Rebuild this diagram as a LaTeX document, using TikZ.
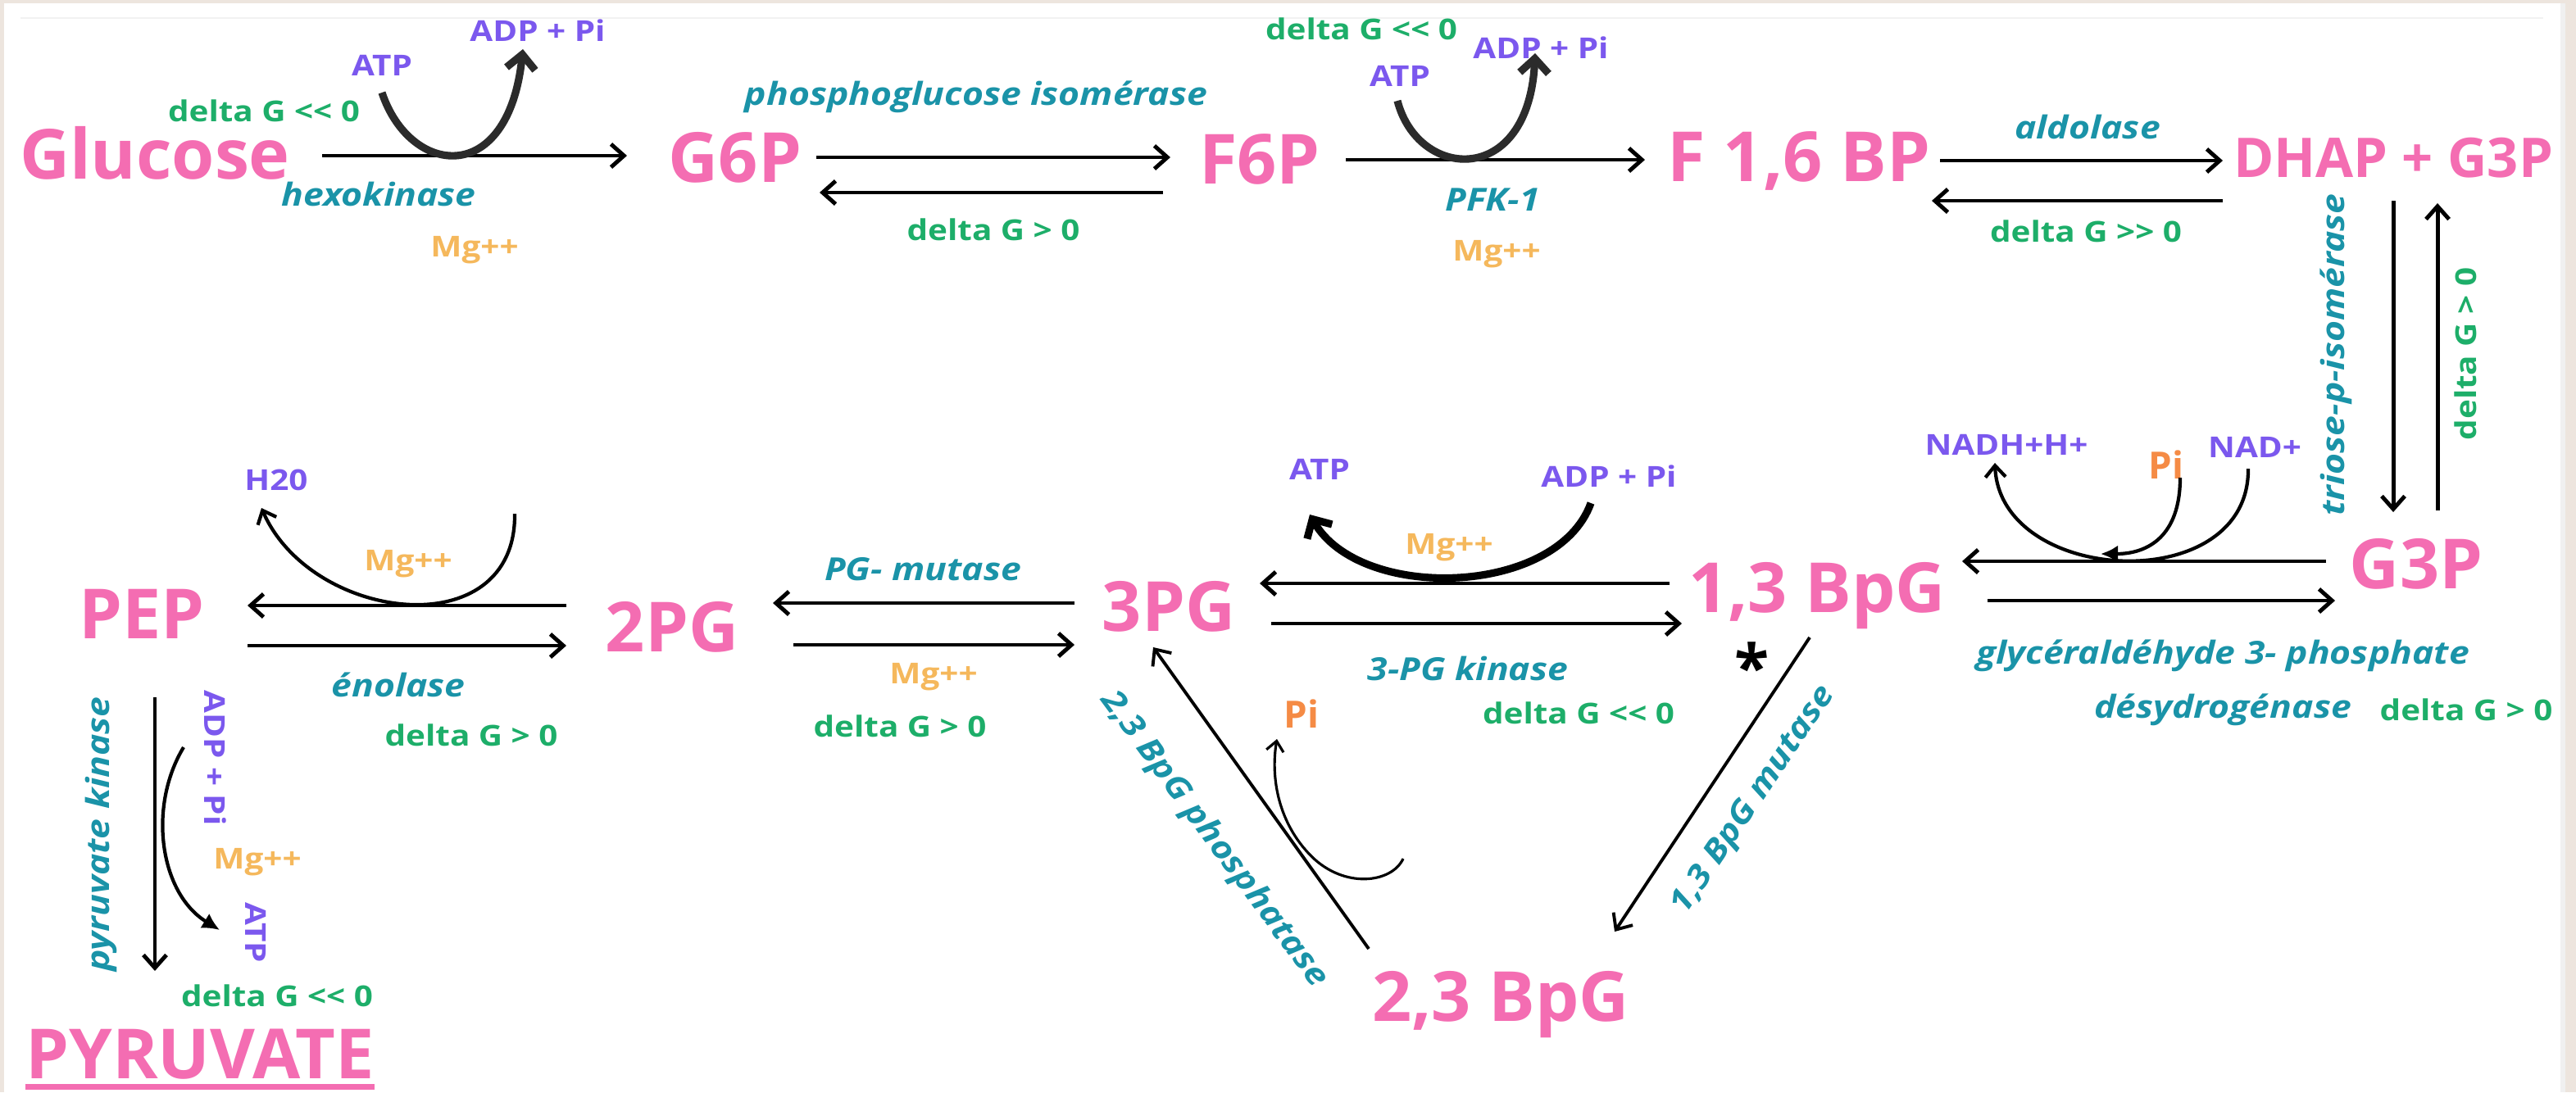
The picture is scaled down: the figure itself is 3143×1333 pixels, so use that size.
\documentclass[tikz,border=0pt]{standalone}
\usepackage{fontspec}
\setmainfont{Open Sans}
\newfontfamily\molf{Open Sans}
\newfontfamily\lblf{Open Sans}[FakeStretch=1.15]
\usetikzlibrary{arrows.meta,calc}
\definecolor{molpink}{HTML}{F46DB2}
\definecolor{cofv}{HTML}{7B58EE}
\definecolor{enzc}{HTML}{1A93A8}
\definecolor{dgc}{HTML}{1DAE69}
\definecolor{mgc}{HTML}{F5B85C}
\definecolor{pio}{HTML}{F58B45}
\definecolor{framec}{HTML}{EDE5DE}
\definecolor{curvec}{HTML}{2B2B2B}
\tikzset{
  mol/.style={font=\molf\bfseries\fontsize{24}{28}\selectfont, text=molpink, inner sep=0pt, anchor=base},
  lab/.style={font=\lblf\bfseries\fontsize{10}{12}\selectfont, inner sep=0pt},
  enzl/.style={font=\lblf\bfseries\itshape\fontsize{11}{13}\selectfont, inner sep=0pt, text=enzc},
  dgl/.style={lab, text=dgc},
  mgl/.style={lab, text=mgc},
  cofl/.style={lab, text=cofv},
  pil/.style={font=\molf\bfseries\fontsize{13}{15}\selectfont, inner sep=0pt, text=pio},
  rx/.style={line width=1.4pt, -{Straight Barb[length=4.5pt,width=8pt]}},
  rxthin/.style={line width=1.1pt, -{Straight Barb[length=4.5pt,width=8pt]}},
  bigcurve/.style={line width=2.6pt, curvec, -{Straight Barb[length=5pt,width=10pt]}},
  smallcurve/.style={line width=1.2pt, -{Straight Barb[length=4pt,width=7pt]}},
  fillcurve/.style={line width=1.2pt, -{Latex[length=6pt,width=6pt]}},
}
\begin{document}
\begin{tikzpicture}[x=0.01cm, y=-0.01cm]
% frame
\fill[framec] (0,0) rectangle (3143,1333);
\fill[white] (5,4) rectangle (3126,1333);
\fill[black!6] (3124,4) rectangle (3130,1333);
\draw[black!5, line width=0.8pt] (25,22) -- (3103,22);
\useasboundingbox (0,0) rectangle (3143,1333);

% ---------- molecules ----------
\node[mol] (glc) at (189,218) {Glucose};
\node[mol] (g6p) at (897,222) {G6P};
\node[mol] (f6p) at (1537,224) {F6P};
\node[mol] (f16) at (2195,221) {F 1,6 BP};
\node[mol, font=\molf\bfseries\fontsize{19}{22}\selectfont] (dhap) at (2920,216) {DHAP + G3P};
\node[mol] (g3p) at (2948,718) {G3P};
\node[mol] (bpg13) at (2217,747) {1,3 BpG};
\node[mol] (pg3) at (1426,770) {3PG};
\node[mol] (pg2) at (820,795) {2PG};
\node[mol] (pep) at (173,779) {PEP};
\node[mol] (bpg23) at (1831,1246) {2,3 BpG};
\node[mol] (pyr) at (244,1316) {PYRUVATE};
\fill[molpink] ($(pyr.base west)+(0,7)$) rectangle ($(pyr.base east)+(0,14)$);

% ---------- arrow end points ----------
\coordinate (a1s) at (393,190);  \coordinate (a1e) at (765,190);
\coordinate (a2s) at (996,192);  \coordinate (a2e) at (1428,192);
\coordinate (a3s) at (1419,235); \coordinate (a3e) at (1000,235);
\coordinate (a4s) at (1642,195); \coordinate (a4e) at (2007,195);
\coordinate (a5s) at (2367,196); \coordinate (a5e) at (2712,196);
\coordinate (a6s) at (2712,245); \coordinate (a6e) at (2357,245);
\coordinate (a7s) at (2920,245); \coordinate (a7e) at (2920,625);
\coordinate (a8s) at (2974,623); \coordinate (a8e) at (2974,248);
\coordinate (a9s) at (2838,685); \coordinate (a9e) at (2394,685);
\coordinate (a10s) at (2425,733); \coordinate (a10e) at (2849,733);
\coordinate (a11s) at (2037,712); \coordinate (a11e) at (1537,712);
\coordinate (a12s) at (1551,761); \coordinate (a12e) at (2052,761);
\coordinate (a13s) at (1311,736); \coordinate (a13e) at (943,736);
\coordinate (a14s) at (968,787);  \coordinate (a14e) at (1311,787);
\coordinate (a15s) at (691,739);  \coordinate (a15e) at (302,739);
\coordinate (a16s) at (302,788);  \coordinate (a16e) at (691,788);
\coordinate (a17s) at (189,851);  \coordinate (a17e) at (189,1185);
\coordinate (a18s) at (2208,778); \coordinate (a18e) at (1970,1137);
\coordinate (a19s) at (1670,1158); \coordinate (a19e) at (1407,790);

\draw[rx] (a1s) -- (a1e);
\draw[rx] (a2s) -- (a2e);
\draw[rx] (a3s) -- (a3e);
\draw[rx] (a4s) -- (a4e);
\draw[rx] (a5s) -- (a5e);
\draw[rx] (a6s) -- (a6e);
\draw[rx] (a7s) -- (a7e);
\draw[rx] (a8s) -- (a8e);
\draw[rx] (a9s) -- (a9e);
\draw[rx] (a10s) -- (a10e);
\draw[rx] (a11s) -- (a11e);
\draw[rx] (a12s) -- (a12e);
\draw[rx] (a13s) -- (a13e);
\draw[rx] (a14s) -- (a14e);
\draw[rx] (a15s) -- (a15e);
\draw[rx] (a16s) -- (a16e);
\draw[rx] (a17s) -- (a17e);
\draw[rxthin] (a18s) -- (a18e);
\draw[rxthin] (a19s) -- (a19e);

% ---------- labels row 1 ----------
\node[dgl] (dg1) at (322,135) {delta G << 0};
\node[cofl] (atp1) at (466,80) {ATP};
\node[cofl] (adp1) at (656,37) {ADP + Pi};
\node[enzl] (hexo) at (462,237) {hexokinase};
\node[mgl] (mg1) at (579,305) {Mg++};
\node[enzl] (pgi) at (1191,118) {phosphoglucose isomérase};
\node[dgl] (dg2) at (1212,280) {delta G > 0};
\node[dgl] (dg3) at (1661,35) {delta G << 0};
\node[cofl] (atp2) at (1708,93) {ATP};
\node[cofl] (adp2) at (1880,58) {ADP + Pi};
\node[enzl] (pfk) at (1821,244) {PFK-1};
\node[mgl] (mg2) at (1826,310) {Mg++};
\node[enzl] (ald) at (2547,155) {aldolase};
\node[dgl] (dg4) at (2545,282) {delta G >> 0};
\node[enzl, rotate=90] (tpi) at (2850,433) {triose-p-isomérase};
\node[dgl, rotate=90] (dg5) at (3008,432) {delta G > 0};

% ---------- labels row 2 ----------
\node[cofl] (nadh) at (2448,543) {NADH+H+};
\node[pil] (pi1) at (2643,567) {Pi};
\node[cofl] (nad) at (2751,546) {NAD+};
\node[enzl] (gapdh1) at (2712,800) {glycéraldéhyde 3- phosphate};
\node[enzl] (gapdh2) at (2712,866) {désydrogénase};
\node[dgl] (dg6) at (3009,866) {delta G > 0};
\node[font=\molf\bfseries\fontsize{22}{24}\selectfont, inner sep=0pt] (star) at (2138,813) {*};
\node[enzl, rotate=56] (mut13) at (2140,977) {1,3 BpG mutase};

\node[cofl] (atp3) at (1610,573) {ATP};
\node[cofl] (adp3) at (1963,581) {ADP + Pi};
\node[mgl] (mg3) at (1768,668) {Mg++};
\node[enzl] (pgk) at (1791,816) {3-PG kinase};
\node[dgl] (dg7) at (1926,870) {delta G << 0};

\node[enzl] (pgm) at (1126,695) {PG- mutase};
\node[mgl] (mg4) at (1139,826) {Mg++};
\node[dgl] (dg8) at (1098,886) {delta G > 0};

\node[cofl] (h2o) at (337,586) {H20};
\node[mgl] (mg5) at (498,688) {Mg++};
\node[enzl] (eno) at (486,836) {énolase};
\node[dgl] (dg9) at (575,897) {delta G > 0};

\node[enzl, rotate=90] (pk) at (123,1018) {pyruvate kinase};
\node[cofl, rotate=-90] (adp4) at (263,925) {ADP + Pi};
\node[mgl] (mg6) at (314,1052) {Mg++};
\node[cofl, rotate=-90] (atp4) at (312,1138) {ATP};
\node[dgl] (dg10) at (338,1215) {delta G << 0};

\node[enzl, rotate=-53.5] (bpgp) at (1481,1025) {2,3 BpG phosphatase};
\node[pil] (pi2) at (1588,871) {Pi};

% ---------- cofactor curves ----------
\coordinate (c1s) at (466,113); \coordinate (c1e) at (638,60);
\draw[bigcurve] (c1s) .. controls (500,215) and (620,230) .. (c1e);
\coordinate (c2s) at (1705,123); \coordinate (c2e) at (1873,65);
\draw[bigcurve] (c2s) .. controls (1730,220) and (1865,230) .. (c2e);
\coordinate (c3s) at (1941,614); \coordinate (c3e) at (1598,628);
\draw[bigcurve, black] (c3s) .. controls (1900,728) and (1660,735) .. (c3e);
\coordinate (c4s) at (628,627); \coordinate (c4e) at (319,620);
\draw[smallcurve] (c4s) .. controls (630,790) and (380,760) .. (c4e);
\coordinate (c5s) at (2743,572); \coordinate (c5e) at (2434,565);
\draw[smallcurve] (c5s) .. controls (2745,730) and (2440,715) .. (c5e);
\coordinate (c6s) at (2660,583); \coordinate (c6e) at (2563,676);
\draw[fillcurve] (c6s) .. controls (2660,655) and (2620,676) .. (c6e);
\coordinate (c7s) at (224,912); \coordinate (c7e) at (268,1135);
\draw[fillcurve] (c7s) .. controls (180,985) and (195,1090) .. (c7e);
\coordinate (c8s) at (1712,1048); \coordinate (c8m) at (1600,1045); \coordinate (c8e) at (1558,902);
\draw[line width=0.9pt, -{Straight Barb[length=3.5pt,width=6pt]}] (c8s) .. controls (1698,1078) and (1640,1085) .. (c8m) .. controls (1560,1005) and (1550,950) .. (c8e);
\end{tikzpicture}
\end{document}
